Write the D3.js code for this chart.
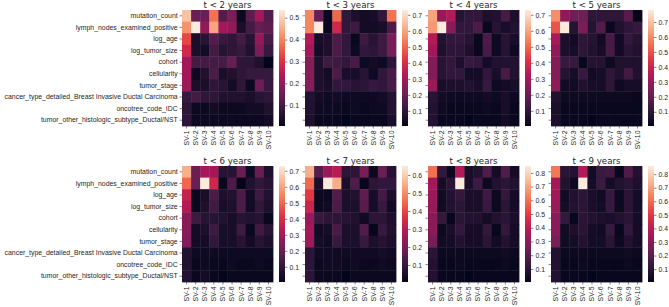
<!DOCTYPE html>
<html>
<head>
<meta charset="utf-8">
<script src="https://cdn.jsdelivr.net/npm/d3@7"></script>
<style>
  html, body { margin: 0; padding: 0; background: #fff; }
  svg { display: block; font-family: "DejaVu Sans", sans-serif; }
  .tick text { fill: #262626; }
  .tick line { stroke: #333; stroke-width: 0.6; }
</style>
</head>
<body>
<svg id="chart" width="669" height="307"></svg>
<script>
// ---------- DATA ----------
const features = [
  "mutation_count",
  "lymph_nodes_examined_positive",
  "log_age",
  "log_tumor_size",
  "cohort",
  "cellularity",
  "tumor_stage",
  "cancer_type_detailed_Breast Invasive Ductal Carcinoma",
  "oncotree_code_IDC",
  "tumor_other_histologic_subtype_Ductal/NST"
];
const svLabels = ["SV-1","SV-2","SV-3","SV-4","SV-5","SV-6","SV-7","SV-8","SV-9","SV-10"];
const titles = ["t < 2 years","t < 3 years","t < 4 years","t < 5 years",
                "t < 6 years","t < 7 years","t < 8 years","t < 9 years"];

const ticks2 = [0.1,0.2,0.3,0.4,0.5];
const ticks3 = [0.1,0.2,0.3,0.4,0.5,0.6,0.7];
const ticks4 = [0.1,0.2,0.3,0.4,0.5,0.6,0.7];
const ticks5 = [0.1,0.2,0.3,0.4,0.5,0.6,0.7];
const ticks6 = [0.1,0.2,0.3,0.4,0.5,0.6,0.7];
const ticks7 = [0.1,0.2,0.3,0.4,0.5,0.6];
const ticks8 = [0.1,0.2,0.3,0.4,0.5,0.6,0.7,0.8];
const ticks9 = [0.1,0.2,0.3,0.4,0.5,0.6,0.7,0.8];

// rows = features, columns = SV-1 .. SV-10
const t2 = [
  [0.48,0.15,0.15,0.38,0.12,0.17,0.02,0.13,0.22,0.12],
  [0.42,0.535,0.20,0.44,0.22,0.20,0.04,0.10,0.14,0.13],
  [0.33,0.04,0.06,0.12,0.08,0.07,0.10,0.06,0.20,0.10],
  [0.28,0.04,0.03,0.10,0.06,0.07,0.08,0.05,0.17,0.08],
  [0.22,0.10,0.10,0.10,0.10,0.14,0.07,0.07,0.05,0.005],
  [0.22,0.02,0.05,0.11,0.04,0.05,0.07,0.08,0.08,0.08],
  [0.21,0.04,0.04,0.07,0.06,0.03,0.07,0.02,0.15,0.08],
  [0.08,0.10,0.07,0.07,0.05,0.05,0.05,0.04,0.06,0.07],
  [0.07,0.02,0.02,0.03,0.02,0.02,0.02,0.03,0.03,0.05],
  [0.07,0.02,0.02,0.02,0.02,0.02,0.02,0.02,0.02,0.03]
];
const t3 = [
  [0.55,0.20,0.02,0.50,0.10,0.06,0.04,0.05,0.10,0.52],
  [0.55,0.73,0.02,0.38,0.10,0.12,0.04,0.04,0.05,0.15],
  [0.33,0.05,0.06,0.15,0.10,0.02,0.12,0.08,0.12,0.22],
  [0.30,0.04,0.06,0.15,0.10,0.03,0.10,0.09,0.12,0.22],
  [0.25,0.06,0.12,0.12,0.10,0.14,0.03,0.04,0.03,0.09],
  [0.25,0.06,0.04,0.15,0.05,0.05,0.08,0.03,0.10,0.14],
  [0.25,0.06,0.05,0.10,0.10,0.08,0.09,0.11,0.10,0.14],
  [0.07,0.04,0.03,0.04,0.03,0.03,0.03,0.03,0.04,0.07],
  [0.07,0.03,0.03,0.03,0.02,0.03,0.02,0.03,0.03,0.07],
  [0.06,0.02,0.02,0.02,0.005,0.02,0.02,0.02,0.02,0.05]
];
const t4 = [
  [0.60,0.27,0.33,0.08,0.10,0.10,0.06,0.07,0.14,0.06],
  [0.58,0.73,0.25,0.10,0.10,0.15,0.02,0.08,0.05,0.07],
  [0.33,0.07,0.10,0.10,0.08,0.02,0.15,0.03,0.08,0.05],
  [0.30,0.06,0.09,0.09,0.06,0.02,0.14,0.03,0.08,0.03],
  [0.24,0.08,0.10,0.06,0.11,0.10,0.04,0.07,0.07,0.07],
  [0.24,0.08,0.10,0.10,0.04,0.04,0.10,0.05,0.14,0.07],
  [0.28,0.05,0.06,0.06,0.07,0.05,0.11,0.03,0.04,0.05],
  [0.08,0.04,0.03,0.03,0.03,0.03,0.04,0.03,0.05,0.03],
  [0.07,0.03,0.02,0.02,0.02,0.02,0.03,0.02,0.05,0.02],
  [0.07,0.02,0.02,0.02,0.005,0.02,0.02,0.02,0.04,0.02]
];
const t5 = [
  [0.60,0.28,0.22,0.22,0.10,0.10,0.10,0.10,0.18,0.01],
  [0.50,0.78,0.08,0.25,0.08,0.17,0.02,0.07,0.10,0.12],
  [0.33,0.06,0.04,0.10,0.08,0.04,0.15,0.04,0.11,0.08],
  [0.28,0.06,0.05,0.10,0.07,0.05,0.15,0.04,0.09,0.07],
  [0.26,0.12,0.12,0.02,0.08,0.08,0.03,0.07,0.07,0.07],
  [0.26,0.08,0.05,0.12,0.04,0.05,0.10,0.07,0.14,0.07],
  [0.28,0.04,0.04,0.07,0.05,0.05,0.10,0.03,0.05,0.05],
  [0.07,0.03,0.03,0.03,0.03,0.03,0.03,0.03,0.03,0.02],
  [0.06,0.02,0.02,0.02,0.02,0.02,0.02,0.02,0.02,0.02],
  [0.06,0.02,0.02,0.02,0.005,0.02,0.02,0.02,0.02,0.02]
];
const t6 = [
  [0.62,0.20,0.30,0.30,0.08,0.08,0.20,0.03,0.20,0.06],
  [0.50,0.20,0.73,0.38,0.02,0.15,0.01,0.07,0.10,0.08],
  [0.36,0.02,0.05,0.15,0.06,0.07,0.15,0.04,0.12,0.07],
  [0.33,0.02,0.06,0.13,0.05,0.06,0.15,0.04,0.10,0.06],
  [0.25,0.12,0.08,0.08,0.07,0.05,0.08,0.07,0.08,0.02],
  [0.25,0.04,0.06,0.12,0.05,0.05,0.12,0.02,0.13,0.08],
  [0.24,0.04,0.04,0.10,0.05,0.05,0.08,0.04,0.08,0.06],
  [0.07,0.03,0.03,0.03,0.03,0.03,0.03,0.03,0.03,0.03],
  [0.07,0.02,0.03,0.02,0.02,0.03,0.02,0.02,0.03,0.02],
  [0.07,0.02,0.04,0.02,0.005,0.02,0.02,0.02,0.02,0.02]
];
const t7 = [
  [0.55,0.15,0.25,0.30,0.08,0.08,0.20,0.02,0.18,0.07],
  [0.45,0.05,0.65,0.55,0.05,0.14,0.01,0.08,0.09,0.09],
  [0.38,0.02,0.02,0.14,0.05,0.06,0.16,0.04,0.12,0.05],
  [0.33,0.02,0.03,0.13,0.05,0.05,0.15,0.04,0.10,0.03],
  [0.25,0.10,0.08,0.08,0.07,0.06,0.03,0.08,0.08,0.05],
  [0.27,0.03,0.04,0.13,0.05,0.05,0.14,0.01,0.10,0.06],
  [0.26,0.04,0.03,0.10,0.05,0.05,0.10,0.05,0.07,0.05],
  [0.08,0.03,0.03,0.03,0.03,0.03,0.03,0.03,0.04,0.03],
  [0.08,0.02,0.03,0.03,0.02,0.03,0.02,0.02,0.03,0.02],
  [0.08,0.02,0.02,0.02,0.005,0.02,0.02,0.02,0.02,0.02]
];
const t8 = [
  [0.60,0.12,0.03,0.38,0.06,0.08,0.18,0.05,0.18,0.05],
  [0.35,0.05,0.10,0.85,0.06,0.14,0.03,0.08,0.10,0.08],
  [0.33,0.04,0.08,0.12,0.06,0.06,0.14,0.03,0.12,0.05],
  [0.32,0.04,0.08,0.10,0.06,0.06,0.13,0.03,0.10,0.05],
  [0.30,0.12,0.02,0.10,0.08,0.08,0.05,0.08,0.10,0.06],
  [0.30,0.03,0.06,0.12,0.05,0.05,0.12,0.02,0.12,0.05],
  [0.26,0.04,0.05,0.08,0.05,0.05,0.10,0.04,0.08,0.05],
  [0.10,0.03,0.03,0.03,0.03,0.03,0.03,0.03,0.04,0.03],
  [0.08,0.02,0.02,0.03,0.02,0.02,0.02,0.02,0.03,0.02],
  [0.08,0.02,0.02,0.02,0.005,0.02,0.02,0.02,0.02,0.02]
];
const t9 = [
  [0.62,0.10,0.08,0.38,0.04,0.14,0.15,0.02,0.18,0.08],
  [0.35,0.08,0.03,0.86,0.05,0.14,0.05,0.08,0.10,0.07],
  [0.35,0.04,0.08,0.10,0.06,0.04,0.13,0.03,0.10,0.05],
  [0.33,0.05,0.08,0.10,0.06,0.05,0.13,0.03,0.10,0.05],
  [0.30,0.12,0.02,0.10,0.08,0.07,0.06,0.08,0.10,0.05],
  [0.30,0.04,0.07,0.10,0.05,0.04,0.13,0.02,0.12,0.05],
  [0.27,0.04,0.05,0.08,0.05,0.05,0.10,0.03,0.08,0.05],
  [0.08,0.03,0.03,0.03,0.03,0.03,0.03,0.03,0.04,0.03],
  [0.08,0.02,0.02,0.03,0.02,0.02,0.02,0.02,0.03,0.02],
  [0.08,0.02,0.02,0.02,0.005,0.02,0.02,0.02,0.02,0.02]
];

// seaborn "rocket" colormap stops
const rocketStops = ["#03051a","#35193e","#701f57","#ad1759","#e13342","#f37651","#f6b48f","#faebdd"];

// ---------- BUILD ----------
const panels = [
  {title: titles[0], data: t2, ticks: ticks2},
  {title: titles[1], data: t3, ticks: ticks3},
  {title: titles[2], data: t4, ticks: ticks4},
  {title: titles[3], data: t5, ticks: ticks5},
  {title: titles[4], data: t6, ticks: ticks6},
  {title: titles[5], data: t7, ticks: ticks7},
  {title: titles[6], data: t8, ticks: ticks8},
  {title: titles[7], data: t9, ticks: ticks9}
];

const rocket = d3.scaleLinear()
  .domain(d3.range(rocketStops.length).map(i => i / (rocketStops.length - 1)))
  .range(rocketStops)
  .interpolate(d3.interpolateRgb)
  .clamp(true);

const svg = d3.select("#chart");
svg.append("rect").attr("width", 669).attr("height", 307).attr("fill", "#fff");

const defs = svg.append("defs");
const grad = defs.append("linearGradient").attr("id", "rocketGrad")
  .attr("x1", 0).attr("y1", 1).attr("x2", 0).attr("y2", 0);
d3.range(0, 1.0001, 0.05).forEach(t => {
  grad.append("stop").attr("offset", t).attr("stop-color", rocket(t));
});

const colX = [182, 305, 428, 551];
const rowY = [10, 166];
const W = 91, H = 116;
const FS = 6.9;

panels.forEach((p, i) => {
  const c = i % 4, r = Math.floor(i / 4);
  const g = svg.append("g").attr("transform", `translate(${colX[c]},${rowY[r]})`);

  const x = d3.scaleBand().domain(svLabels).range([0, W]);
  const y = d3.scaleBand().domain(features).range([0, H]);
  const flat = p.data.flat();
  const ext = d3.extent(flat);
  const color = d3.scaleSequential(t => rocket(t)).domain(ext);

  features.forEach((f, ri) => {
    svLabels.forEach((s, ci) => {
      g.append("rect")
        .attr("x", x(s)).attr("y", y(f))
        .attr("width", x.bandwidth() + 0.4).attr("height", y.bandwidth() + 0.4)
        .attr("fill", color(p.data[ri][ci]));
    });
  });

  // title
  g.append("text")
    .attr("x", W / 2).attr("y", -2.3)
    .attr("text-anchor", "middle")
    .attr("font-size", 8.6).attr("fill", "#262626")
    .text(p.title);

  // y axis
  const ya = d3.axisLeft(y).tickSize(2.5).tickPadding(1.8);
  if (c > 0) ya.tickFormat("");
  const yg = g.append("g").call(ya);
  yg.select(".domain").remove();
  yg.selectAll("text").attr("font-size", FS);

  // x axis
  const xg = g.append("g").attr("transform", `translate(0,${H})`)
    .call(d3.axisBottom(x).tickSize(2.5).tickPadding(2));
  xg.select(".domain").remove();
  xg.selectAll("text")
    .attr("font-size", FS)
    .attr("text-anchor", "end")
    .attr("dy", "0.35em")
    .attr("transform", "translate(0,4.5) rotate(-90)")
    .attr("x", 0).attr("y", 0);

  // colorbar
  const cbX = W + 6, cbW = 6;
  const cb = g.append("g").attr("transform", `translate(${cbX},0)`);
  cb.append("rect").attr("width", cbW).attr("height", H).attr("fill", "url(#rocketGrad)");
  const cbScale = d3.scaleLinear().domain(ext).range([H, 0]);
  const ca = cb.append("g").attr("transform", `translate(${cbW},0)`)
    .call(d3.axisRight(cbScale).tickValues(p.ticks).tickSize(2.5).tickPadding(2).tickFormat(d3.format(".1f")));
  ca.select(".domain").remove();
  ca.selectAll("text").attr("font-size", FS);
});
</script>
</body>
</html>
